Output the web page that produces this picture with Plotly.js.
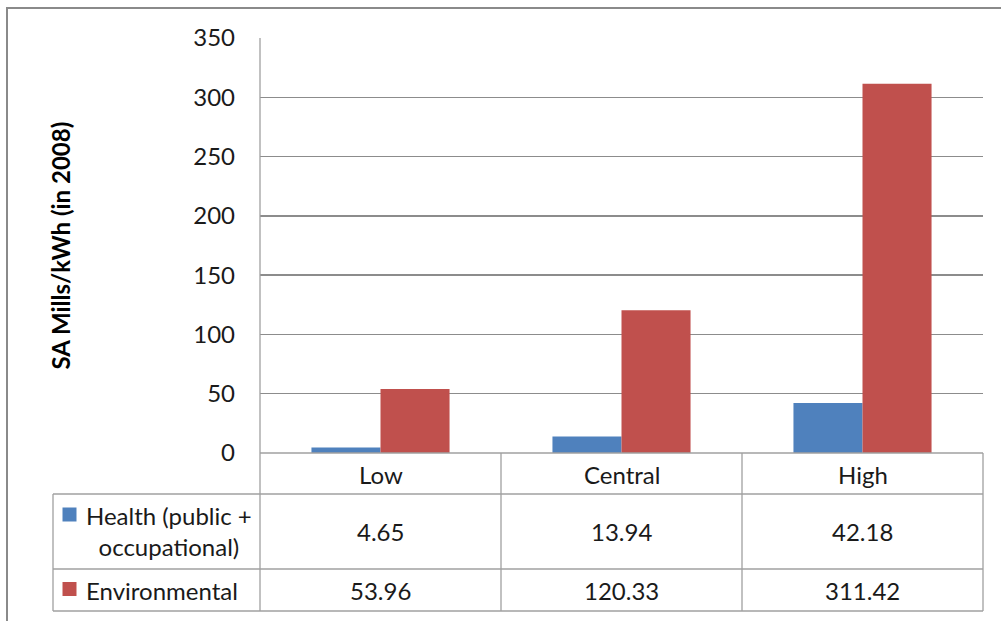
<!DOCTYPE html>
<html>
<head>
<meta charset="utf-8">
<script src="https://cdn.plot.ly/plotly-3.0.1.min.js"></script>
<style>html,body{margin:0;padding:0;background:#fff;}#chart{width:1001px;height:621px;}</style>
</head>
<body>
<div id="chart"></div>
<script>
var categories = ["Low", "Central", "High"];
var seriesNames = ["Health (public +<br>occupational)", "Environmental"];
var health = [4.65, 13.94, 42.18];
var environmental = [53.96, 120.33, 311.42];
var healthLabels = ["4.65", "13.94", "42.18"];
var envLabels = ["53.96", "120.33", "311.42"];
var yTicks = [0, 50, 100, 150, 200, 250, 300, 350];
var yTitle = "SA Mills/kWh (in 2008)";

var FONT = "Lato, 'Open Sans', sans-serif";
var TXT = "#1a1a1a";
var GRID = "#8c8c8c";
var BLUE = "#4f81bd", RED = "#c0504d";

// pixel -> paper helpers (plot area: x 260..983, y 38..453)
var L = 260, R = 983, T = 38, B = 453;
function px(x){ return (x - L) / (R - L); }
function py(y){ return (B - y) / (B - T); }

var traces = [
  {type: "bar", x: categories, y: health, name: "Health", marker: {color: BLUE}, hoverinfo: "none"},
  {type: "bar", x: categories, y: environmental, name: "Environmental", marker: {color: RED}, hoverinfo: "none"}
];

var lineStyle = {color: "#a0a0a0", width: 1.3};
var shapes = [];
// outer frame (clipped on right/bottom)
shapes.push({type: "rect", xref: "paper", yref: "paper", x0: px(7), x1: px(1010), y0: py(630), y1: py(8), line: {color: "#8a8a8a", width: 2}, layer: "below"});
// table horizontal lines
shapes.push({type: "line", xref: "paper", yref: "paper", x0: px(53), x1: px(983), y0: py(494), y1: py(494), line: lineStyle});
shapes.push({type: "line", xref: "paper", yref: "paper", x0: px(53), x1: px(983), y0: py(569), y1: py(569), line: lineStyle});
shapes.push({type: "line", xref: "paper", yref: "paper", x0: px(53), x1: px(983), y0: py(611), y1: py(611), line: lineStyle});
shapes.push({type: "line", xref: "paper", yref: "paper", x0: px(260), x1: px(983), y0: py(453), y1: py(453), line: lineStyle});
// vertical lines
shapes.push({type: "line", xref: "paper", yref: "paper", x0: px(53), x1: px(53), y0: py(494), y1: py(611), line: lineStyle});
[260, 501, 742, 983].forEach(function(x){
  shapes.push({type: "line", xref: "paper", yref: "paper", x0: px(x), x1: px(x), y0: py(x === 260 ? 38 : 453), y1: py(611), line: lineStyle});
});
// legend keys
shapes.push({type: "rect", xref: "paper", yref: "paper", x0: px(62.5), x1: px(76.5), y0: py(521.5), y1: py(507.5), fillcolor: BLUE, line: {width: 0}});
shapes.push({type: "rect", xref: "paper", yref: "paper", x0: px(62.5), x1: px(76.5), y0: py(596), y1: py(582), fillcolor: RED, line: {width: 0}});

var annotations = [];
var fs = 24;
categories.forEach(function(c, i){
  annotations.push({xref: "x", yref: "paper", x: c, y: py(474), text: c, showarrow: false, xanchor: "center", yanchor: "middle", font: {family: FONT, size: fs, color: TXT}});
  annotations.push({xref: "x", yref: "paper", x: c, y: py(531), text: healthLabels[i], showarrow: false, xanchor: "center", yanchor: "middle", font: {family: FONT, size: fs, color: TXT}});
  annotations.push({xref: "x", yref: "paper", x: c, y: py(590), text: envLabels[i], showarrow: false, xanchor: "center", yanchor: "middle", font: {family: FONT, size: fs, color: TXT}});
});
annotations.push({xref: "paper", yref: "paper", x: px(168.5), y: py(531), text: seriesNames[0], showarrow: false, xanchor: "center", yanchor: "middle", align: "center", font: {family: FONT, size: fs, color: TXT}});
annotations.push({xref: "paper", yref: "paper", x: px(84), y: py(590), text: seriesNames[1], showarrow: false, xanchor: "left", yanchor: "middle", font: {family: FONT, size: fs, color: TXT}});
annotations.push({xref: "paper", yref: "paper", x: px(60), y: 0.5, text: "<b>" + yTitle + "</b>", textangle: -90, showarrow: false, xanchor: "center", yanchor: "middle", font: {family: FONT, size: 24, color: "#000"}});

var layout = {
  width: 1001, height: 621,
  margin: {l: L, r: 1001 - R, t: T, b: 621 - B, pad: 0},
  paper_bgcolor: "#fff", plot_bgcolor: "#fff",
  barmode: "group", bargap: 0.427, bargroupgap: 0,
  showlegend: false,
  font: {family: FONT, size: fs, color: TXT},
  xaxis: {showticklabels: false, showgrid: false, zeroline: false, showline: false, ticks: "", fixedrange: true},
  yaxis: {range: [0, 350], tickvals: yTicks, ticktext: yTicks.map(String), showgrid: true, gridcolor: GRID, gridwidth: 1.3,
          zeroline: false, showline: false, ticks: "", ticklabelstandoff: 24,
          tickfont: {family: FONT, size: fs, color: TXT}, fixedrange: true},
  shapes: shapes,
  annotations: annotations
};

Plotly.newPlot("chart", traces, layout, {displayModeBar: false, staticPlot: true});
</script>
</body>
</html>
